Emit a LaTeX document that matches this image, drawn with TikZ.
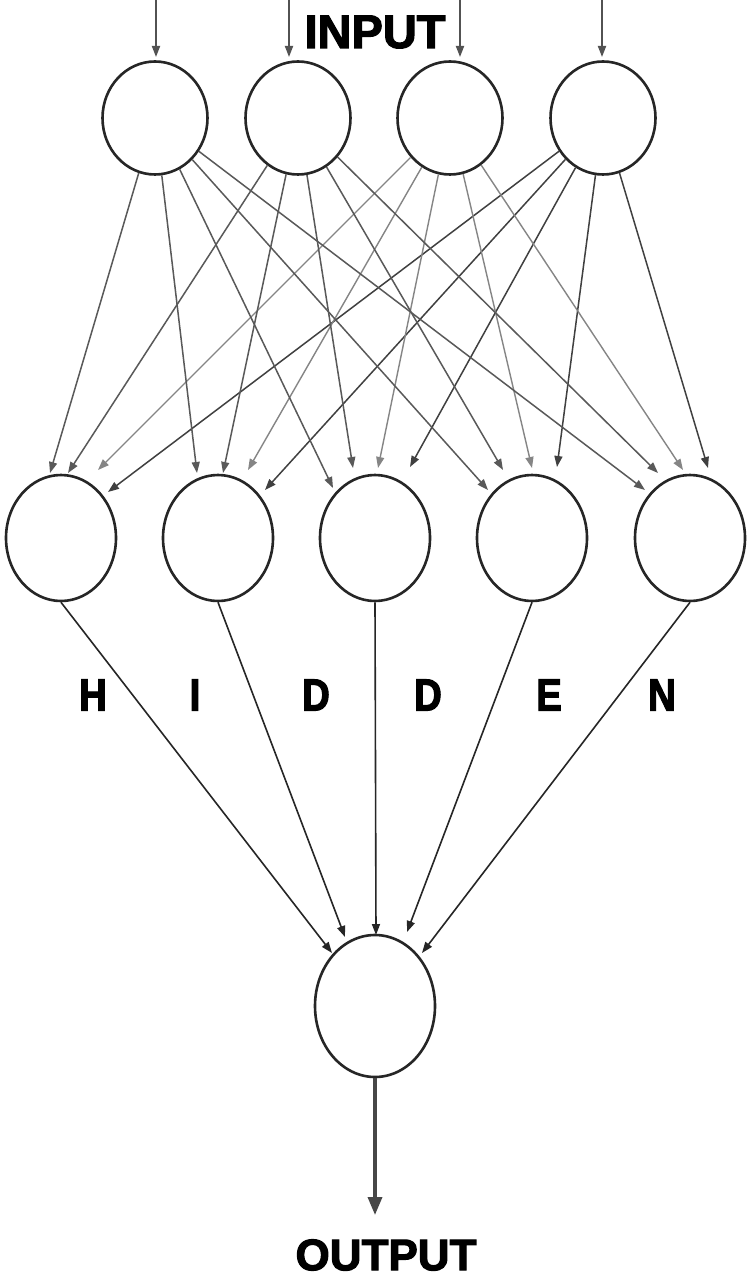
\documentclass[tikz,border=0pt]{standalone}
\usepackage{fontspec}
\setmainfont{Liberation Sans}
\newfontfamily\heavy[FakeBold=2.5]{Liberation Sans Bold}
\newfontfamily\heavyn[FakeBold=2.5,FakeStretch=0.85]{Liberation Sans Bold}
\usetikzlibrary{shapes.geometric,arrows.meta}
\begin{document}
\begin{tikzpicture}[x=1pt,y=-1pt,
  neuron/.style={draw=black!85,line width=2.6pt,ellipse,inner sep=0pt,fill=white},
  inN/.style={neuron,minimum width=105pt,minimum height=113pt},
  hidN/.style={neuron,minimum width=110pt,minimum height=126pt},
  outN/.style={neuron,minimum width=120pt,minimum height=142pt},
  tip/.style={-{Triangle[length=11pt,width=8pt]}},
  synA/.style={tip,draw=black!65,line width=1.5pt},
  synB/.style={tip,draw=black!48,line width=1.4pt},
  synC/.style={tip,draw=black!75,line width=1.5pt},
  feed/.style={tip,draw=black!68,line width=1.8pt},
  conv/.style={tip,draw=black!85,line width=1.6pt},
  outarrow/.style={-{Triangle[length=18pt,width=14pt]},draw=black!72,line width=3.4pt},
  title/.style={font=\heavy\fontsize{47}{47}\selectfont,inner sep=0pt},
  letter/.style={font=\heavyn\fontsize{45}{45}\selectfont,inner sep=0pt}
]
\useasboundingbox (0,0) rectangle (754,1281);
\fill[white] (0,0) rectangle (754,1281);

% input feed coordinates
\coordinate (a1) at (156,0);
\coordinate (a2) at (289,0);
\coordinate (a3) at (460,0);
\coordinate (a4) at (602,0);
\coordinate (b1) at (156,57);
\coordinate (b2) at (289,57);
\coordinate (b3) at (460,57);
\coordinate (b4) at (602,57);

% tips into hidden layer: t<hidden><input>
\coordinate (t11) at (50,473);  \coordinate (t12) at (68,473);  \coordinate (t13) at (98,470);  \coordinate (t14) at (108,492);
\coordinate (t21) at (197,473); \coordinate (t22) at (223,473); \coordinate (t23) at (248,470); \coordinate (t24) at (265,490);
\coordinate (t31) at (333,488); \coordinate (t32) at (353,468); \coordinate (t33) at (378,468); \coordinate (t34) at (410,467);
\coordinate (t41) at (488,490); \coordinate (t42) at (503,470); \coordinate (t43) at (532,468); \coordinate (t44) at (557,467);
\coordinate (t51) at (645,490); \coordinate (t52) at (658,473); \coordinate (t53) at (683,470); \coordinate (t54) at (708,468);

% tips into output
\coordinate (o1) at (332,953);
\coordinate (o2) at (345,937);
\coordinate (o3) at (376,935);
\coordinate (o4) at (407,932);
\coordinate (o5) at (422,953);
\coordinate (oend) at (375,1215);

% input nodes
\node[inN] (i1) at (155,118) {};
\node[inN] (i2) at (298,118) {};
\node[inN] (i3) at (450,118) {};
\node[inN] (i4) at (603,118) {};

% hidden nodes
\node[hidN] (h1) at (61,538) {};
\node[hidN] (h2) at (218,538) {};
\node[hidN] (h3) at (375,538) {};
\node[hidN] (h4) at (532,538) {};
\node[hidN] (h5) at (690,538) {};

% output node
\node[outN] (o) at (375,1006) {};

% input feeds
\foreach \k in {1,2,3,4} \draw[feed] (a\k) -- (b\k);

% input -> hidden
\foreach \j in {1,...,5}{
  \draw[synA] (i1) -- (t\j1);
  \draw[synA] (i2) -- (t\j2);
  \draw[synB] (i3) -- (t\j3);
  \draw[synC] (i4) -- (t\j4);
}

% hidden -> output
\foreach \j in {1,...,5} \draw[conv] (h\j.south) -- (o\j);

% output arrow
\draw[outarrow] (o.south) -- (oend);

% labels
\node[title] (lin) at (375,32) {INPUT};
\node[title,font=\heavy\fontsize{44}{44}\selectfont] (lout) at (386,1255) {OUTPUT};
\node[letter] (l1) at (93,695) {H};
\node[letter] (l2) at (195,695) {I};
\node[letter] (l3) at (316,695) {D};
\node[letter] (l4) at (428,695) {D};
\node[letter] (l5) at (549,695) {E};
\node[letter] (l6) at (662,695) {N};
\end{tikzpicture}
\end{document}
